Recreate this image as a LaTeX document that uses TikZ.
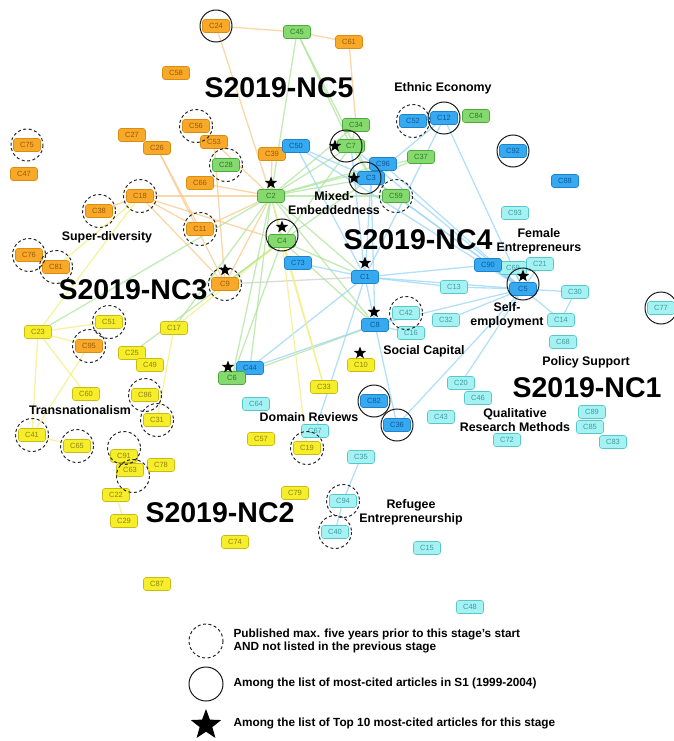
\documentclass[tikz,border=0pt]{standalone}
\usepackage{fontspec}
\setmainfont{Liberation Sans}
\usetikzlibrary{shapes.geometric,backgrounds}

\definecolor{orangefill}{HTML}{F8A92A}
\definecolor{orangedraw}{HTML}{D98C0F}
\definecolor{orangetext}{HTML}{9A5A08}
\definecolor{greenfill}{HTML}{86D96F}
\definecolor{greendraw}{HTML}{4BA83A}
\definecolor{greentext}{HTML}{2E7A22}
\definecolor{bluefill}{HTML}{36A9F0}
\definecolor{bluedraw}{HTML}{1C82CC}
\definecolor{bluetext}{HTML}{0E5A9A}
\definecolor{cyanfill}{HTML}{A6F2F2}
\definecolor{cyandraw}{HTML}{55C8CC}
\definecolor{cyantext}{HTML}{3B9DA5}
\definecolor{yellowfill}{HTML}{F6EE2A}
\definecolor{yellowdraw}{HTML}{C9BB10}
\definecolor{yellowtext}{HTML}{8F8410}
\definecolor{orangeedge}{HTML}{F7C98A}
\definecolor{greenedge}{HTML}{AEE39A}
\definecolor{blueedge}{HTML}{9AD5F7}
\definecolor{yellowedge}{HTML}{F2EE80}
\definecolor{greyedge}{HTML}{CDCDCD}

\tikzset{
  cbox/.style={rounded corners=2.5pt, minimum width=27pt, minimum height=13pt,
    inner sep=1pt, line width=0.6pt, font=\fontsize{7.5}{8}\selectfont},
  orangebox/.style={cbox, fill=orangefill, draw=orangedraw, text=orangetext},
  greenbox/.style={cbox, fill=greenfill, draw=greendraw, text=greentext},
  bluebox/.style={cbox, fill=bluefill, draw=bluedraw, text=bluetext},
  cyanbox/.style={cbox, fill=cyanfill, draw=cyandraw, text=cyantext},
  yellowbox/.style={cbox, fill=yellowfill, draw=yellowdraw, text=yellowtext},
  newring/.style={draw=black!85, line width=1pt, dash pattern=on 3pt off 2.5pt},
  oldring/.style={draw=black!90, line width=1pt},
  topstar/.style={star, star points=5, star point ratio=2.4, fill=black,
    inner sep=0pt, minimum size=13pt},
  stagelabel/.style={font=\fontsize{28.5}{30}\selectfont\bfseries},
  topiclabel/.style={font=\fontsize{12.4}{14}\selectfont\bfseries, align=center},
  legendtext/.style={font=\fontsize{11.8}{12.6}\selectfont\bfseries, align=left, anchor=west},
  link/.style={line width=1.3pt, opacity=0.75}
}

\begin{document}
\begin{tikzpicture}[x=1pt,y=-1pt]
\useasboundingbox (0,0) rectangle (674,741);

% S2019-NC5 (orange)
\node[orangebox] (c24) at (216,26) {C24};
\node[orangebox] (c58) at (176,73) {C58};
\node[orangebox] (c61) at (349,42) {C61};
\node[orangebox] (c75) at (27,145) {C75};
\node[orangebox] (c47) at (24,174) {C47};
\node[orangebox] (c27) at (132,135) {C27};
\node[orangebox] (c26) at (157,148) {C26};
\node[orangebox] (c56) at (196,126) {C56};
\node[orangebox] (c53) at (214,142) {C53};
\node[orangebox] (c66) at (200,183) {C66};
\node[orangebox] (c39) at (272,154) {C39};
\node[orangebox] (c18) at (140,196) {C18};
\node[orangebox] (c38) at (99,211) {C38};
\node[orangebox] (c11) at (200,229) {C11};
\node[orangebox] (c76) at (29,255) {C76};
\node[orangebox] (c81) at (56,267) {C81};
\node[orangebox] (c9) at (225,284) {C9};
\node[orangebox] (c95) at (89,346) {C95};

% green
\node[greenbox] (c45) at (297,32) {C45};
\node[greenbox] (c34) at (356,125) {C34};
\node[greenbox] (c7) at (351,146) {C7};
\node[greenbox] (c28) at (226,165) {C28};
\node[greenbox] (c2) at (271,196) {C2};
\node[greenbox] (c4) at (282,241) {C4};
\node[greenbox] (c37) at (421,157) {C37};
\node[greenbox] (c59) at (396,196) {C59};
\node[greenbox] (c84) at (476,116) {C84};

% blue
\node[bluebox] (c50) at (296,146) {C50};
\node[bluebox] (c52) at (413,121) {C52};
\node[bluebox] (c12) at (444,118) {C12};
\node[bluebox] (c92) at (513,151) {C92};
\node[bluebox] (c88) at (565,181) {C88};
\node[bluebox] (c96) at (383,164) {C96};
\node[bluebox] (c3) at (371,178) {C3};
\node[bluebox] (c73) at (298,263) {C73};
\node[bluebox] (c1) at (365,277) {C1};
\node[bluebox] (c8) at (375,325) {C8};
\node[bluebox] (c44) at (250,368) {C44};
\node[greenbox] (c6) at (232,378) {C6};
\node[bluebox] (c82) at (374,401) {C82};
\node[bluebox] (c36) at (397,425) {C36};

% S2019-NC1 (light)
\node[cyanbox] (c93) at (515,213) {C93};
\node[cyanbox] (c69) at (513,268) {C69};
\node[bluebox] (c90) at (488,265) {C90};
\node[cyanbox] (c21) at (540,264) {C21};
\node[bluebox] (c5) at (523,289) {C5};
\node[cyanbox] (c30) at (575,292) {C30};
\node[cyanbox] (c14) at (561,320) {C14};
\node[cyanbox] (c68) at (563,342) {C68};
\node[cyanbox] (c77) at (661,308) {C77};
\node[cyanbox] (c13) at (454,287) {C13};
\node[cyanbox] (c42) at (406,313) {C42};
\node[cyanbox] (c16) at (411,333) {C16};
\node[cyanbox] (c32) at (446,320) {C32};
\node[cyanbox] (c20) at (461,383) {C20};
\node[cyanbox] (c46) at (478,398) {C46};
\node[cyanbox] (c43) at (441,417) {C43};
\node[cyanbox] (c72) at (507,440) {C72};
\node[cyanbox] (c89) at (592,412) {C89};
\node[cyanbox] (c85) at (590,427) {C85};
\node[cyanbox] (c83) at (613,442) {C83};
\node[cyanbox] (c64) at (256,404) {C64};
\node[cyanbox] (c67) at (315,431) {C67};
\node[cyanbox] (c35) at (361,457) {C35};
\node[cyanbox] (c94) at (343,501) {C94};
\node[cyanbox] (c40) at (335,532) {C40};
\node[cyanbox] (c15) at (427,548) {C15};
\node[cyanbox] (c48) at (470,607) {C48};

% S2019-NC2 (yellow)
\node[yellowbox] (c17) at (174,328) {C17};
\node[yellowbox] (c51) at (109,322) {C51};
\node[yellowbox] (c23) at (38,332) {C23};
\node[yellowbox] (c25) at (132,353) {C25};
\node[yellowbox] (c49) at (150,365) {C49};
\node[yellowbox] (c60) at (86,394) {C60};
\node[yellowbox] (c86) at (145,395) {C86};
\node[yellowbox] (c31) at (157,420) {C31};
\node[yellowbox] (c41) at (32,435) {C41};
\node[yellowbox] (c65) at (77,446) {C65};
\node[yellowbox] (c91) at (124,456) {C91};
\node[yellowbox] (c63) at (130,470) {C63};
\node[yellowbox] (c78) at (161,465) {C78};
\node[yellowbox] (c22) at (116,495) {C22};
\node[yellowbox] (c29) at (124,521) {C29};
\node[yellowbox] (c10) at (361,365) {C10};
\node[yellowbox] (c33) at (324,387) {C33};
\node[yellowbox] (c57) at (261,439) {C57};
\node[yellowbox] (c19) at (307,448) {C19};
\node[yellowbox] (c79) at (295,493) {C79};
\node[yellowbox] (c74) at (235,542) {C74};
\node[yellowbox] (c87) at (157,584) {C87};

% links
\begin{scope}[on background layer]
\draw[link,orangeedge] (c24) -- (c45);
\draw[link,orangeedge] (c45) -- (c61);
\draw[link,orangeedge] (c61) -- (c34);
\draw[link,orangeedge] (c24) -- (c2);
\draw[link,orangeedge] (c26) -- (c9);
\draw[link,orangeedge] (c26) -- (c11);
\draw[link,orangeedge] (c53) -- (c2);
\draw[link,orangeedge] (c53) -- (c9);
\draw[link,orangeedge] (c18) -- (c2);
\draw[link,orangeedge] (c18) -- (c11);
\draw[link,orangeedge] (c18) -- (c9);
\draw[link,orangeedge] (c18) -- (c4);
\draw[link,orangeedge] (c38) -- (c18);
\draw[link,orangeedge] (c11) -- (c2);
\draw[link,orangeedge] (c9) -- (c2);
\draw[link,orangeedge] (c66) -- (c2);
\draw[link,orangeedge] (c39) -- (c2);

\draw[link,greenedge] (c45) -- (c2);
\draw[link,greenedge] (c45) -- (c7);
\draw[link,greenedge] (c45) -- (c3);
\draw[link,greenedge] (c2) -- (c7);
\draw[link,greenedge] (c2) -- (c34);
\draw[link,greenedge] (c2) -- (c3);
\draw[link,greenedge] (c2) -- (c96);
\draw[link,greenedge] (c2) -- (c59);
\draw[link,greenedge] (c2) -- (c37);
\draw[link,greenedge] (c2) -- (c1);
\draw[link,greenedge] (c2) -- (c8);
\draw[link,greenedge] (c2) -- (c4);
\draw[link,greenedge] (c2) -- (c6);
\draw[link,greenedge] (c2) -- (c44);
\draw[link,greenedge] (c2) -- (c23);
\draw[link,greenedge] (c2) -- (c17);
\draw[link,greenedge] (c4) -- (c7);
\draw[link,greenedge] (c4) -- (c3);
\draw[link,greenedge] (c4) -- (c1);
\draw[link,greenedge] (c4) -- (c8);
\draw[link,greenedge] (c4) -- (c6);
\draw[link,greenedge] (c4) -- (c25);
\draw[link,greenedge] (c4) -- (c9);
\draw[link,greenedge] (c34) -- (c7);
\draw[link,greenedge] (c7) -- (c3);
\draw[link,greenedge] (c37) -- (c3);
\draw[link,greenedge] (c59) -- (c3);
\draw[link,greenedge] (c6) -- (c8);

\draw[link,blueedge] (c50) -- (c1);
\draw[link,blueedge] (c50) -- (c3);
\draw[link,blueedge] (c50) -- (c5);
\draw[link,blueedge] (c3) -- (c1);
\draw[link,blueedge] (c3) -- (c5);
\draw[link,blueedge] (c3) -- (c8);
\draw[link,blueedge] (c3) -- (c12);
\draw[link,blueedge] (c12) -- (c52);
\draw[link,blueedge] (c12) -- (c5);
\draw[link,blueedge] (c12) -- (c1);
\draw[link,blueedge] (c96) -- (c5);
\draw[link,blueedge] (c7) -- (c1);
\draw[link,blueedge] (c7) -- (c5);
\draw[link,blueedge] (c59) -- (c5);
\draw[link,blueedge] (c1) -- (c5);
\draw[link,blueedge] (c1) -- (c8);
\draw[link,blueedge] (c1) -- (c13);
\draw[link,blueedge] (c1) -- (c90);
\draw[link,blueedge] (c1) -- (c67);
\draw[link,blueedge] (c73) -- (c1);
\draw[link,blueedge] (c44) -- (c1);
\draw[link,blueedge] (c44) -- (c8);
\draw[link,blueedge] (c8) -- (c5);
\draw[link,blueedge] (c8) -- (c42);
\draw[link,blueedge] (c8) -- (c16);
\draw[link,blueedge] (c8) -- (c36);
\draw[link,blueedge] (c5) -- (c90);
\draw[link,blueedge] (c5) -- (c69);
\draw[link,blueedge] (c5) -- (c21);
\draw[link,blueedge] (c5) -- (c30);
\draw[link,blueedge] (c5) -- (c14);
\draw[link,blueedge] (c5) -- (c13);
\draw[link,blueedge] (c5) -- (c32);
\draw[link,blueedge] (c5) -- (c36);
\draw[link,blueedge] (c5) -- (c20);
\draw[link,blueedge] (c30) -- (c14);
\draw[link,blueedge] (c35) -- (c94);
\draw[link,blueedge] (c94) -- (c40);

\draw[link,greyedge] (c9) -- (c1);

\draw[link,yellowedge] (c23) -- (c41);
\draw[link,yellowedge] (c23) -- (c95);
\draw[link,yellowedge] (c23) -- (c51);
\draw[link,yellowedge] (c23) -- (c60);
\draw[link,yellowedge] (c23) -- (c18);
\draw[link,yellowedge] (c95) -- (c41);
\draw[link,yellowedge] (c41) -- (c65);
\draw[link,yellowedge] (c81) -- (c18);
\draw[link,yellowedge] (c17) -- (c31);
\draw[link,yellowedge] (c17) -- (c4);
\draw[link,yellowedge] (c4) -- (c33);
\draw[link,yellowedge] (c4) -- (c19);
\draw[link,yellowedge] (c2) -- (c33);
\draw[link,yellowedge] (c22) -- (c29);
\draw[link,yellowedge] (c91) -- (c63);
\end{scope}

% rings: new articles
\draw[newring] (c75) circle (16);
\draw[newring] (c56) circle (16.5);
\draw[newring] (c28) circle (16.5);
\draw[newring] (c38) circle (16.5);
\draw[newring] (c18) circle (16.5);
\draw[newring] (c11) circle (16.5);
\draw[newring] (c76) circle (16.5);
\draw[newring] (c81) circle (16.5);
\draw[newring] (c9) circle (16.5);
\draw[newring] (c51) circle (16.5);
\draw[newring] (c95) circle (16.5);
\draw[newring] (c86) circle (16.5);
\draw[newring] (c31) circle (16.5);
\draw[newring] (c41) circle (16.5);
\draw[newring] (c65) circle (16.5);
\draw[newring] ([yshift=8]c91) circle (16.5);
\draw[newring] ([yshift=-6,xshift=3]c63) circle (16.5);
\draw[newring] (c19) circle (16.5);
\draw[newring] (c94) circle (16.5);
\draw[newring] (c40) circle (16.5);
\draw[newring] (c42) circle (16.5);
\draw[newring] (c59) circle (16.5);
\draw[newring] (c52) circle (16.5);

% rings: most-cited in S1
\draw[oldring] (c24) circle (16);
\draw[oldring] ([xshift=-5]c7) circle (16);
\draw[oldring] ([xshift=-6]c3) circle (16);
\draw[oldring] (c12) circle (16);
\draw[oldring] (c92) circle (16);
\draw[oldring] ([yshift=6]c4) circle (16);
\draw[oldring] ([yshift=5]c5) circle (16);
\draw[oldring] (c77) circle (16);
\draw[oldring] (c82) circle (16);
\draw[oldring] (c36) circle (16);

% top 10 stars
\node[topstar] (s2) at (271,183) {};
\node[topstar] (s4) at (282,227) {};
\node[topstar] (s7) at (335,146) {};
\node[topstar] (s3) at (354,178) {};
\node[topstar] (s1) at (365,263) {};
\node[topstar] (s8) at (374,312) {};
\node[topstar] (s10) at (360,353) {};
\node[topstar] (s6) at (228,367) {};
\node[topstar] (s9) at (225,270) {};
\node[topstar] (s5) at (523,276) {};

% stage and topic labels
\node[stagelabel] (nc5) at (279,88) {S2019-NC5};
\node[stagelabel] (nc3) at (133,290) {S2019-NC3};
\node[stagelabel] (nc4) at (418,240) {S2019-NC4};
\node[stagelabel] (nc1) at (587,388) {S2019-NC1};
\node[stagelabel] (nc2) at (220,513) {S2019-NC2};
\node[topiclabel] (ethnic) at (443,88) {Ethnic Economy};
\node[topiclabel] (superdiv) at (107,237) {Super-diversity};
\node[topiclabel] (mixed) at (334,203) {Mixed-\\Embeddedness};
\node[topiclabel] (female) at (539,241) {Female\\Entrepreneurs};
\node[topiclabel] (selfemp) at (507,315) {Self-\\employment};
\node[topiclabel] (social) at (424,351) {Social Capital};
\node[topiclabel] (policy) at (586,362) {Policy Support};
\node[topiclabel] (qualit) at (515,420) {Qualitative\\Research Methods};
\node[topiclabel] (transnat) at (80,410) {Transnationalism};
\node[topiclabel] (domain) at (309,417) {Domain Reviews};
\node[topiclabel] (refugee) at (411,512) {Refugee\\Entrepreneurship};

% legend
\draw[newring] (206,641) circle (17);
\draw[oldring] (206,684) circle (17);
\node[topstar, minimum size=32pt] (legstar) at (206,725) {};
\node[legendtext] (legnew) at (230,641) {Published max. five years prior to this stage's start\\AND not listed in the previous stage};
\node[legendtext] (legold) at (230,683) {Among the list of most-cited articles in S1 (1999-2004)};
\node[legendtext] (legtop) at (230,723) {Among the list of Top 10 most-cited articles for this stage};

\end{tikzpicture}
\end{document}
